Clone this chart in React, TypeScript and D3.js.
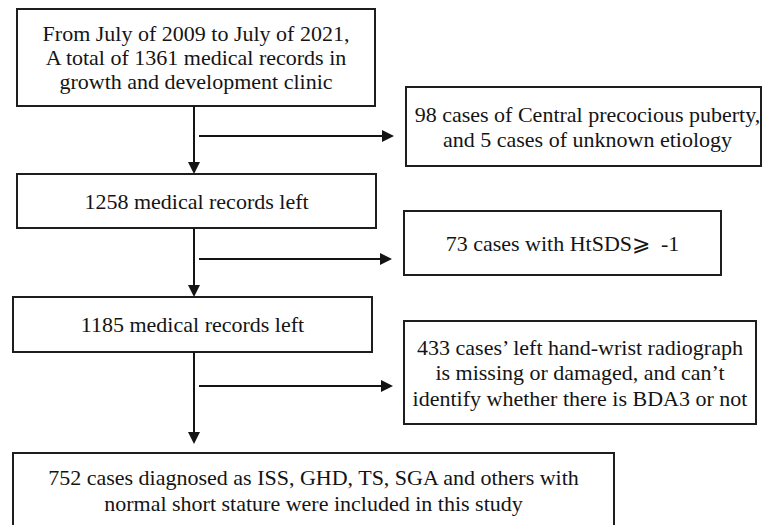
// flow chart of record selection
import { useEffect, useRef } from 'react';
import * as d3 from 'd3';

// text in each box, top to bottom
const startLines = ['From July of 2009 to July of 2021,', 'A total of 1361 medical records in', 'growth and development clinic'];
const step1Lines = ['1258 medical records left'];
const step2Lines = ['1185 medical records left'];
const finalLines = ['752 cases diagnosed as ISS, GHD, TS, SGA and others with', 'normal short stature were included in this study'];
const excl1Lines = ['98 cases of Central precocious puberty,', 'and 5 cases of unknown etiology'];
const excl2Lines = ['73 cases with HtSDS\u2A7E  -1'];
const excl3Lines = ['433 cases\u2019 left hand-wrist radiograph', 'is missing or damaged, and can\u2019t', 'identify whether there is BDA3 or not'];

const width = 763;
const height = 525;
const fontSize = 22;

function FlowChart() {
    const ref = useRef<SVGSVGElement>(null);

    useEffect(() => {
        const svg = d3.select(ref.current);
        svg.selectAll('*').remove();

        // box layout: x, y, w, h, line height, text center offset
        const boxes = [
            { lines: startLines, x: 17, y: 9, w: 358, h: 97, lh: 24, dx: 0 },
            { lines: step1Lines, x: 17, y: 174, w: 359, h: 54, lh: 24, dx: 0 },
            { lines: step2Lines, x: 13, y: 297, w: 359, h: 55, lh: 24, dx: 0 },
            { lines: finalLines, x: 13, y: 453, w: 601, h: 75, lh: 26, dx: 0 },
            { lines: excl1Lines, x: 406, y: 87, w: 355, h: 79, lh: 25, dx: 4 },
            { lines: excl2Lines, x: 404, y: 211, w: 317, h: 64, lh: 25, dx: 0 },
            { lines: excl3Lines, x: 404, y: 321, w: 352, h: 103, lh: 25.5, dx: 0 },
        ];

        const g = svg.selectAll('g.box').data(boxes).enter().append('g').attr('class', 'box');
        g.append('rect')
            .attr('x', d => d.x)
            .attr('y', d => d.y)
            .attr('width', d => d.w)
            .attr('height', d => d.h)
            .attr('fill', 'white')
            .attr('stroke', '#1e1e1e')
            .style('stroke-width', '2px');
        g.each(function (d) {
            const cx = d.x + d.w / 2 + d.dx;
            const cy = d.y + d.h / 2;
            const n = d.lines.length;
            d3.select(this).selectAll('text').data(d.lines).enter().append('text')
                .attr('x', cx)
                .attr('y', (_, i) => cy + (i - (n - 1) / 2) * d.lh + fontSize * 0.35)
                .attr('text-anchor', 'middle')
                .attr('fill', '#141414')
                .style('font-family', '"Liberation Serif", "Times New Roman", "DejaVu Serif", serif')
                .style('font-size', fontSize + 'px')
                .style('white-space', 'pre')
                .text(t => t);
        });

        // main flow arrows (down) and exclusion arrows (right)
        const spineX = 194;
        const down = [[106, 174], [228, 297], [352, 444]];
        const right = [[136, 394], [259, 392], [386, 393]];
        const branchX = 199;

        const arrows = svg.append('g').attr('stroke', '#141414').attr('fill', '#141414');
        down.forEach(([y0, y1]) => {
            arrows.append('line')
                .attr('x1', spineX).attr('x2', spineX)
                .attr('y1', y0).attr('y2', y1 - 10)
                .style('stroke-width', '2px');
            arrows.append('path')
                .attr('d', `M${spineX - 6},${y1 - 12}L${spineX + 6},${y1 - 12}L${spineX},${y1}Z`)
                .attr('stroke', 'none');
        });
        right.forEach(([y, x1]) => {
            arrows.append('line')
                .attr('x1', branchX).attr('x2', x1 - 10)
                .attr('y1', y).attr('y2', y)
                .style('stroke-width', '2px');
            arrows.append('path')
                .attr('d', `M${x1 - 12},${y - 6}L${x1 - 12},${y + 6}L${x1},${y}Z`)
                .attr('stroke', 'none');
        });
    }, []);

    return (
        <svg
            ref={ref}
            width={width}
            height={height}
            style={{ position: 'absolute', left: 0, top: 0, background: 'white' }}
        />
    );
}

export default function App() {
    return <FlowChart />;
}
